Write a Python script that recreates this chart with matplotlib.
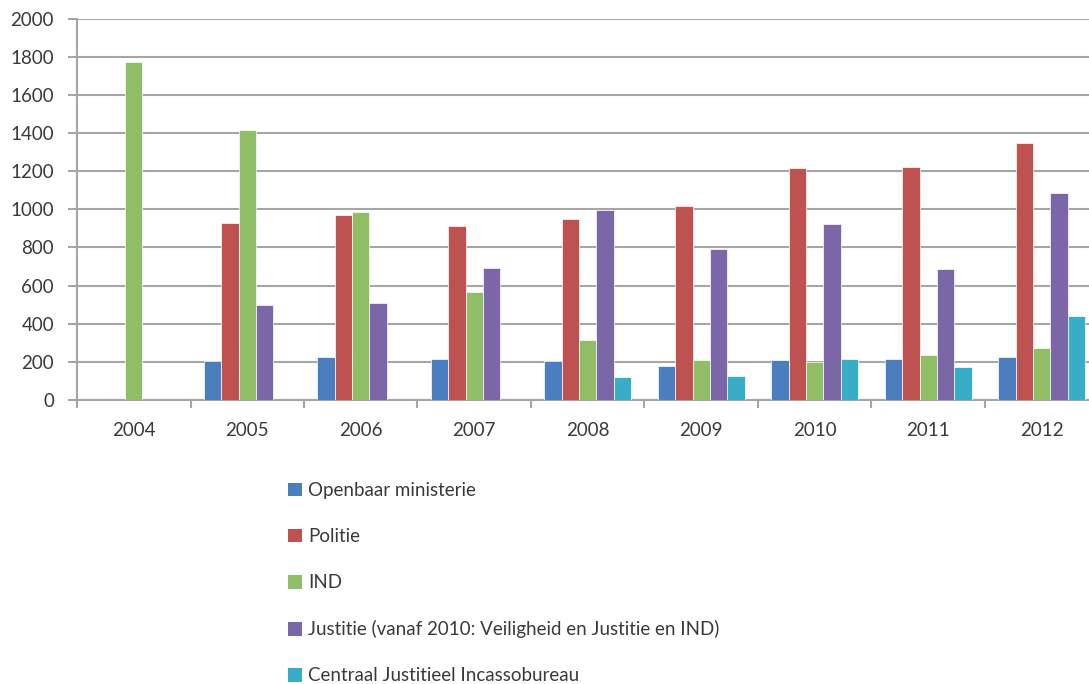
import matplotlib
matplotlib.use("Agg")
import matplotlib.pyplot as plt
import numpy as np
from matplotlib.patches import Patch

plt.rcParams["font.family"] = ["Lato", "DejaVu Sans"]

# ---- data ----
years = ["2004", "2005", "2006", "2007", "2008", "2009", "2010", "2011", "2012"]
nan = np.nan
openbaar_ministerie = [nan, 204, 223, 214, 204, 178, 209, 213, 227]
politie = [nan, 928, 970, 913, 951, 1017, 1216, 1223, 1347]
ind = [1773, 1417, 984, 565, 314, 208, 200, 237, 272]
justitie = [nan, 497, 509, 694, 995, 789, 921, 686, 1084]
cjib = [nan, nan, nan, nan, 120, 126, 213, 171, 440]

labels = ["Openbaar ministerie", "Politie", "IND",
          "Justitie (vanaf 2010: Veiligheid en Justitie en IND)",
          "Centraal Justitieel Incassobureau"]
colors = ["#4A7EBF", "#BE5250", "#90BE66", "#7B66A8", "#38ADC8"]
series = [openbaar_ministerie, politie, ind, justitie, cjib]

GRID = "#A6A6A6"
TXT = "#3A3A3A"
FS = 13.5

fig = plt.figure(figsize=(10.89, 6.84), dpi=100)
ax = fig.add_axes([77 / 1089, 284 / 684, 1021.5 / 1089, 381.5 / 684])

x = np.arange(len(years))
w = 0.1527
for i, (vals, col) in enumerate(zip(series, colors)):
    ax.bar(x + (i - 2) * w, vals, width=w, color=col, edgecolor="white",
           linewidth=0.5, zorder=3)

ax.set_xlim(-0.5, len(years) - 0.5)
ax.set_ylim(0, 2000)
ax.set_yticks(range(0, 2001, 200))
ax.set_axisbelow(True)
ax.grid(True, axis="y", color=GRID, lw=1.5)

for s in ("top", "right"):
    ax.spines[s].set_visible(False)
for s in ("left", "bottom"):
    ax.spines[s].set_color(GRID)
    ax.spines[s].set_linewidth(1.5)

ax.tick_params(axis="y", length=6.5, width=1.5, color=GRID, pad=10,
               labelsize=FS, labelcolor=TXT)
ax.set_xticks(x)
ax.set_xticklabels(years)
ax.set_xticks(np.arange(-0.5, len(years), 1.0), minor=True)
ax.tick_params(axis="x", which="major", length=0, pad=16, labelsize=FS,
               labelcolor=TXT)
ax.tick_params(axis="x", which="minor", length=5.5, width=1.5, color=GRID)

# legend sits low; the reference crops the last row at the bottom edge
handles = [Patch(facecolor=c, edgecolor="none") for c in colors]
fig.legend(handles, labels, loc="upper left",
           bbox_to_anchor=(288 / 1089, 1 - 482 / 684), frameon=False,
           fontsize=FS, labelcolor=TXT, labelspacing=1.55,
           handlelength=0.76, handleheight=0.76, handletextpad=0.3,
           borderpad=0, borderaxespad=0)

fig.savefig("out.png", dpi=100)
